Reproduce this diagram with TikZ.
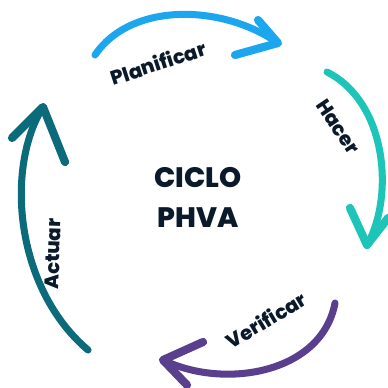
\documentclass[tikz,border=0pt]{standalone}
\usepackage{fontspec}
\setmainfont{Poppins}[BoldFont={Poppins ExtraBold}]
\definecolor{planblue}{HTML}{1BA6EE}
\definecolor{hacerteal}{HTML}{1CC5B7}
\definecolor{verifpurple}{HTML}{5B3F8F}
\definecolor{actuarteal}{HTML}{0B6B7B}
\definecolor{labelink}{HTML}{0B1A2B}
\tikzset{
  cyclearrow/.style={line width=5pt, line cap=round, line join=round},
  tiparm/.style={line width=5.8pt, line cap=round, line join=round},
  steplabel/.style={font=\bfseries\fontsize{14}{16}\selectfont, text=labelink, inner sep=0pt},
  centerlabel/.style={font=\bfseries\fontsize{20}{24}\selectfont, text=labelink, inner sep=0pt}
}
\begin{document}
\begin{tikzpicture}[x=0.025cm,y=0.025cm]
\useasboundingbox (0,0) rectangle (388,388);
% Planificar
\draw[cyclearrow, planblue] (95,333) .. controls (130,385) and (220,385) .. (278,345);
\draw[tiparm, planblue] (258,368) -- (278,345) -- (235,333);
\node[steplabel, rotate=18] (plan) at (158,325) {Planificar};
% Hacer
\draw[cyclearrow, hacerteal] (327,316) .. controls (388,285) and (394,190) .. (367,143);
\draw[tiparm, hacerteal] (350,180) -- (367,143) -- (388,170);
\node[steplabel, rotate=-56] (hacer) at (338,261) {Hacer};
% Verificar
\draw[cyclearrow, verifpurple] (335,85) .. controls (322,15) and (225,-2) .. (163,28);
\draw[tiparm, verifpurple] (203,46) -- (163,28) -- (187,3);
\node[steplabel, rotate=31] (verif) at (266,68) {Verificar};
% Actuar
\draw[cyclearrow, actuarteal] (88,38) .. controls (15,100) and (5,220) .. (43,281);
\draw[tiparm, actuarteal] (12,250) -- (43,281) -- (65,226);
\node[steplabel, rotate=88] (actuar) at (53,134) {Actuar};
% centro
\node[centerlabel] (ciclo) at (198,210) {CICLO};
\node[centerlabel] (phva) at (198,170) {PHVA};
\end{tikzpicture}
\end{document}
